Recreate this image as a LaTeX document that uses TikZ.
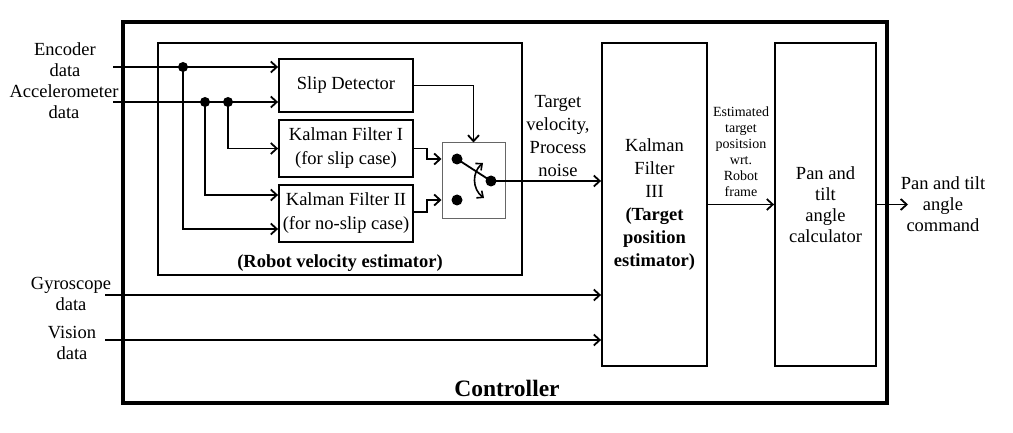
\documentclass[tikz,border=0pt]{standalone}
\usepackage{fontspec}
\setmainfont{Liberation Serif}
\usetikzlibrary{arrows.meta,calc}
\newcommand\fsN{\rmfamily\fontsize{18.5pt}{21pt}\selectfont}
\newcommand\fsT{\rmfamily\fontsize{18.5pt}{23pt}\selectfont}
\newcommand\fsK{\rmfamily\fontsize{18.5pt}{24pt}\selectfont}
\newcommand\fsS{\rmfamily\fontsize{14pt}{16pt}\selectfont}
\newcommand\fsB{\rmfamily\fontsize{23.5pt}{26pt}\selectfont\bfseries}
\begin{document}
\begin{tikzpicture}[x=1pt,y=-1pt,
  >={Straight Barb[length=6pt,width=11pt]},
  conn/.style={line width=1.8pt,->},
  wire/.style={line width=1.8pt},
  blk/.style={draw,line width=1.8pt,inner sep=0pt,align=center,font=\fsN},
  lbl/.style={align=center,inner sep=0pt,font=\fsN},
  jdot/.style={circle,fill=black,inner sep=0pt,minimum size=10pt},
  sdot/.style={circle,fill=black,inner sep=0pt,minimum size=11pt}]
\useasboundingbox (0,0) rectangle (1013,433);
% outer controller box
\draw[line width=3.5pt] (123,22) rectangle (887,403);
\node[font=\fsB,inner sep=0pt] (ctrl) at (507,388) {Controller};
% inner robot velocity estimator box
\draw[line width=1.8pt] (158,43) rectangle (522,275);
\node[lbl,font=\fsN\bfseries] (rve) at (340,263) {(Robot velocity estimator)};
% blocks
\node[blk,minimum width=134pt,minimum height=53pt] (slip) at (346,85.5) {Slip Detector};
\node[blk,minimum width=134pt,minimum height=57pt,font=\fsK] (kf1) at (346,148.5) {Kalman Filter I\\(for slip case)};
\node[blk,minimum width=134pt,minimum height=57pt,font=\fsK] (kf2) at (346,213.5) {Kalman Filter II\\(for no-slip case)};
\node[draw=black!60,line width=1pt,minimum width=63pt,minimum height=76pt,inner sep=0pt] (sw) at (473.5,181) {};
\node[blk,minimum width=105pt,minimum height=323pt,font=\fsT] (kf3) at (654.5,204.5) {Kalman\\Filter\\III\\\textbf{(Target}\\\textbf{position}\\\textbf{estimator)}};
\node[blk,minimum width=101pt,minimum height=323pt] (pan) at (825.5,204.5) {Pan and\\tilt\\angle\\calculator};
% input labels
\node[lbl] (encL) at (65,59.5) {Encoder\\data};
\node[lbl] (accL) at (64,101.5) {Accelerometer\\data};
\node[lbl] (gyrL) at (71,294) {Gyroscope\\data};
\node[lbl] (visL) at (72,343) {Vision\\data};
\node[lbl,font=\fsT] (tv) at (558,136) {Target\\velocity,\\Process\\noise};
\node[lbl,font=\fsS] (est) at (741,152) {Estimated\\target\\positsion\\wrt.\\Robot\\frame};
\node[lbl] (cmd) at (943,204) {Pan and tilt\\angle\\command};
% coordinates
\coordinate (encIn) at (113,67);
\coordinate (accIn) at (113,102);
\coordinate (gyrIn) at (105,295);
\coordinate (visIn) at (105,340);
\coordinate (out) at (908,204.5);
\coordinate (kf2a) at (413,195);
\coordinate (kf2b) at (413,229);
% junctions
\node[jdot] (j1) at (183,67) {};
\node[jdot] (j2) at (205,102) {};
\node[jdot] (j3) at (228,102) {};
% inputs
\draw[conn] (encIn) -- (encIn -| slip.west);
\draw[conn] (accIn) -- (accIn -| slip.west);
\draw[conn] (j3.center) |- (kf1.west);
\draw[conn] (j2.center) |- (j2 |- kf2a) -- (kf2a -| kf2.west);
\draw[conn] (j1.center) |- (j1 |- kf2b) -- (kf2b -| kf2.west);
\draw[conn] (gyrIn) -- (gyrIn -| kf3.west);
\draw[conn] (visIn) -- (visIn -| kf3.west);
% switch internals
\node[sdot] (sa) at (457,159) {};
\node[sdot] (sb) at (457,200) {};
\node[sdot] (sp) at (491,181) {};
\draw[wire] (sa.center) -- (sp.center);
\draw[line width=1.6pt,{Straight Barb[length=5pt,width=9pt]}-{Straight Barb[length=5pt,width=9pt]}] (483,163) .. controls (472,172) and (472,189) .. (484,198);
% switch inputs
\draw[conn] (slip.east) -| (sw.north);
\draw[conn] (kf1.east) -- ++(13,0) |- (sw.west |- sa);
\draw[conn] (kf2.east |- 0,212) -- ++(13,0) |- (sw.west |- sb);
% outputs
\draw[conn] (sp.center) -- (sp -| kf3.west);
\draw[conn] (kf3.east) -- (pan.west);
\draw[conn] (pan.east) -- (out);
\end{tikzpicture}
\end{document}
